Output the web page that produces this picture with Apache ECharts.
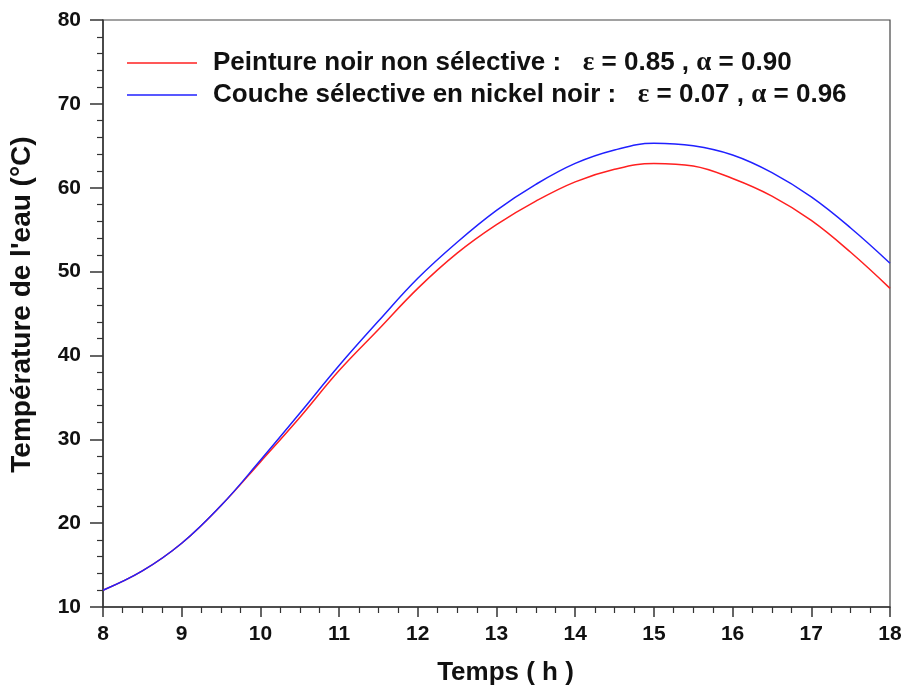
<!DOCTYPE html>
<html>
<head>
<meta charset="utf-8">
<script src="https://cdn.jsdelivr.net/npm/echarts@6/dist/echarts.min.js"></script>
<style>
  html, body { margin: 0; padding: 0; background: #fff; }
  #chart { width: 905px; height: 691px; }
</style>
</head>
<body>
<div id="chart"></div>
<script>
// Time of day (h)
const hours = [8, 8.5, 9, 9.5, 10, 10.5, 11, 11.5, 12, 12.5, 13, 13.5, 14, 14.5, 15, 15.5, 16, 16.5, 17, 17.5, 18];
// Water temperature (°C) — non-selective black paint
const paintTemps = [12.0, 14.3, 17.6, 22.1, 27.3, 32.6, 38.2, 43.1, 48.0, 52.2, 55.6, 58.4, 60.7, 62.2, 62.9, 62.6, 61.1, 59.0, 56.1, 52.3, 48.0];
// Water temperature (°C) — selective black nickel coating
const nickelTemps = [12.0, 14.3, 17.6, 22.1, 27.5, 33.1, 38.8, 44.1, 49.2, 53.5, 57.3, 60.4, 62.9, 64.5, 65.3, 65.0, 63.9, 61.8, 58.9, 55.2, 51.0];

const seriesNames = [
  'Peinture noir non sélective :  ε = 0.85 , α = 0.90',
  'Couche sélective en nickel noir :  ε = 0.07 , α = 0.96'
];
const seriesColors = ['#ff2020', '#2020ff'];

const xAxisName = 'Temps ( h )';
const yAxisName = "Température de l'eau (°C)";

const toPairs = (xs, ys) => xs.map((x, i) => [x, ys[i]]);

const chart = echarts.init(document.getElementById('chart'), null, { renderer: 'canvas' });

const sans = 'Arial, "Liberation Sans", sans-serif';
const labelFont = {
  color: '#111',
  fontFamily: sans,
  fontWeight: 'bold',
  fontSize: 21
};

chart.setOption({
  animation: false,
  backgroundColor: '#fff',
  grid: {
    left: 103, top: 20, right: 15, bottom: 84,
    show: true, borderColor: '#444', borderWidth: 1.2, backgroundColor: 'transparent'
  },
  legend: {
    orient: 'vertical',
    left: 122, top: 44,
    icon: 'rect',
    itemWidth: 70, itemHeight: 1.5, itemGap: 4,
    data: seriesNames,
    formatter: name => name.replace(/\s*:\s*/, ' :   ').replace(/([εα])/g, '{g|$1}'),
    textStyle: {
      color: '#111',
      fontFamily: sans,
      fontWeight: 'bold',
      fontSize: 26,
      lineHeight: 28,
      padding: [0, 0, 0, 11],
      rich: {
        g: {
          fontFamily: '"Liberation Serif", "DejaVu Serif", serif',
          fontWeight: 'bold',
          fontSize: 27,
          lineHeight: 28,
          color: '#111'
        }
      }
    }
  },
  xAxis: {
    type: 'value',
    min: 8, max: 18, interval: 1,
    name: xAxisName,
    nameLocation: 'middle',
    nameGap: 53,
    nameTextStyle: Object.assign({}, labelFont, { fontSize: 26, padding: [0, 0, 0, 18] }),
    axisLine: { lineStyle: { color: '#333', width: 1.5 } },
    axisTick: { length: 10, lineStyle: { color: '#333', width: 1.5 } },
    minorTick: { show: true, splitNumber: 4, length: 6, lineStyle: { color: '#333', width: 1.2 } },
    splitLine: { show: false },
    axisLabel: Object.assign({ margin: 17 }, labelFont)
  },
  yAxis: {
    type: 'value',
    min: 10, max: 80, interval: 10,
    name: yAxisName,
    nameLocation: 'middle',
    nameGap: 67,
    nameRotate: 90,
    nameTextStyle: Object.assign({}, labelFont, { fontSize: 28, padding: [0, 0, 0, 18] }),
    axisLine: { lineStyle: { color: '#333', width: 1.5 } },
    axisTick: { length: 13, lineStyle: { color: '#333', width: 1.5 } },
    minorTick: { show: true, splitNumber: 5, length: 6, lineStyle: { color: '#333', width: 1.2 } },
    splitLine: { show: false },
    axisLabel: Object.assign({ margin: 22 }, labelFont)
  },
  series: [
    {
      name: seriesNames[0], type: 'line', smooth: 0.4, showSymbol: false, symbol: 'none',
      data: toPairs(hours, paintTemps),
      lineStyle: { color: seriesColors[0], width: 1.5 },
      itemStyle: { color: seriesColors[0] }
    },
    {
      name: seriesNames[1], type: 'line', smooth: 0.4, showSymbol: false, symbol: 'none',
      data: toPairs(hours, nickelTemps),
      lineStyle: { color: seriesColors[1], width: 1.5 },
      itemStyle: { color: seriesColors[1] }
    }
  ]
});
</script>
</body>
</html>
